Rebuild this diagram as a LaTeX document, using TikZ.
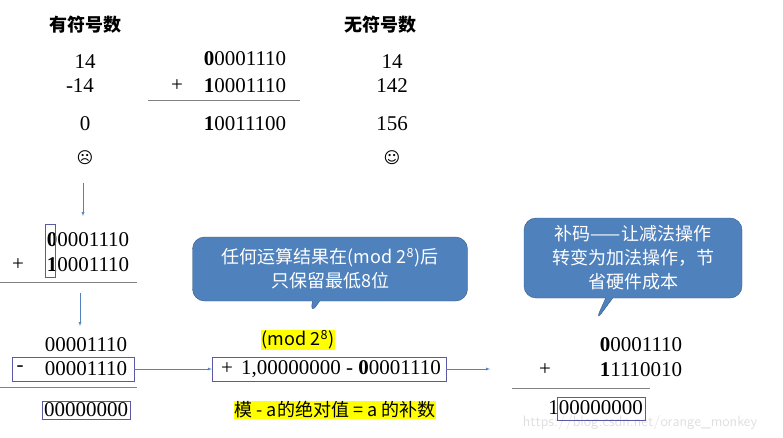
\documentclass[tikz,border=0pt]{standalone}
\usepackage{fontspec}
\setmainfont{Liberation Serif}
\newfontfamily\cjk{Noto Sans CJK SC}
\newfontfamily\sym{DejaVu Sans}
\usetikzlibrary{shapes.callouts}
\definecolor{callblue}{RGB}{79,129,189}
\definecolor{arrblue}{RGB}{84,130,190}
\definecolor{hiyellow}{RGB}{255,255,0}
\tikzset{
  num/.style={font=\fontsize{21}{22}\selectfont,inner sep=1pt},
  head/.style={font=\cjk\bfseries\fontsize{18}{20}\selectfont},
  flow/.style={->,>=latex,draw=arrblue,thin},
  frame/.style={draw=gray!70!blue,thin},
  rule/.style={draw=gray,thick},
  bubble/.style={rectangle callout,rounded corners=12pt,fill=callblue,draw=callblue!70!black,
    text=white,font=\cjk\fontsize{18}{24}\selectfont,align=center},
  hilite/.style={fill=hiyellow,inner sep=1pt,font=\cjk\fontsize{18}{20}\selectfont}
}
\begin{document}
\begin{tikzpicture}[x=1pt,y=-1pt]
  \useasboundingbox (0,0) rectangle (783,438);
  % headings
  \node[head] (hs) at (85,25) {有符号数};
  \node[head] (hu) at (380,25) {无符号数};
  % signed / unsigned sums
  \node[num] (s1) at (85,62) {14};
  \node[num] (s2) at (80,86) {-14};
  \node[num] (s3) at (85,124) {0};
  \node[font=\sym\fontsize{16}{18}\selectfont] (sad) at (85,158) {☹};
  \node[num] (b1) at (245,59) {\textbf{0}0001110};
  \node[num] (bp) at (177,86) {+};
  \node[num] (b2) at (245,86) {\textbf{1}0001110};
  \node[num] (b3) at (245,124) {\textbf{1}0011100};
  \draw[rule] (148,100) coordinate (r1a) -- (300,100) coordinate (r1b);
  \node[num] (u1) at (392,62) {14};
  \node[num] (u2) at (392,86) {142};
  \node[num] (u3) at (392,124) {156};
  \node[font=\sym\fontsize{16}{18}\selectfont] (happy) at (392,158) {☺};
  % middle sum
  \coordinate (a1) at (83,183);
  \coordinate (a2) at (83,216);
  \draw[flow] (a1) -- (a2);
  \node[num] (m1) at (88,240) {\textbf{0}0001110};
  \node[num] (mp) at (18,265) {+};
  \node[num] (m2) at (88,265) {\textbf{1}0001110};
  \draw[frame] (45,224) rectangle (55,277);
  \draw[rule] (0,282) -- (137,282);
  \coordinate (a3) at (80,293);
  \coordinate (a4) at (80,326);
  \draw[flow] (a3) -- (a4);
  % subtraction
  \node[num] (d1) at (86,345) {00001110};
  \node[num,frame,minimum width=122pt,minimum height=24pt] (dbox) at (73,369) {};
  \node[num] (dm) at (20,369) {-};
  \node[num] (d2) at (86,369) {00001110};
  \draw[rule] (0,387) -- (137,387);
  \node[num,frame,inner sep=2pt] (d3) at (86,410) {00000000};
  % modulus form
  \node[num,frame,minimum width=234pt,minimum height=24pt] (mbox) at (329,369) {};
  \node[num] (mplus) at (227,369) {+};
  \node[num] (mexpr) at (341,369) {1,00000000 - \textbf{0}0001110};
  \draw[flow] (dbox.east) -- (mbox.west);
  \coordinate (a5) at (490,369);
  \draw[flow] (mbox.east) -- (a5);
  \node[hilite] (mod) at (298,340) {(mod 2\textsuperscript{8})};
  \node[hilite] (rule2) at (335,410) {模 - a的绝对值 = a 的补数};
  % callouts
  \node[bubble,minimum width=275pt,minimum height=64pt,callout absolute pointer={(310,315)}]
    (c1) at (330,269) {任何运算结果在(mod 2\textsuperscript{8})后\\只保留最低8位};
  \node[bubble,minimum width=218pt,minimum height=80pt,callout absolute pointer={(595,322)}]
    (c2) at (633,258) {补码——让减法操作\\转变为加法操作，节\\省硬件成本};
  % complement sum
  \node[font=\sffamily\fontsize{15}{16}\selectfont,text=gray!25] (wm) at (640,423)
    {https://blog.csdn.net/orange\_monkey};
  \node[num] (k1) at (641,345) {\textbf{0}0001110};
  \node[num] (kp) at (545,370) {+};
  \node[num] (k2) at (641,370) {\textbf{1}1110010};
  \draw[rule] (512,388) -- (650,388);
  \node[num,anchor=east] (k3) at (644,408) {100000000};
  \draw[frame] (557,397) rectangle (645,420);
\end{tikzpicture}
\end{document}
